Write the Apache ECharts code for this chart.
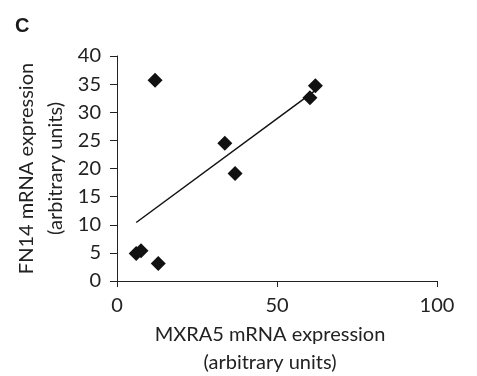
<!DOCTYPE html>
<html><head><meta charset="utf-8">
<script src="https://cdn.jsdelivr.net/npm/echarts@6/dist/echarts.min.js"></script>
<style>html,body{margin:0;padding:0;background:#fff}#c{width:477px;height:376px}</style>
</head><body><div id="c"></div>
<script>
var mxra5 = [6.0, 7.5, 12.9, 11.9, 33.7, 36.9, 60.3, 62.0];
var fn14  = [4.9, 5.4, 3.1, 35.7, 24.5, 19.1, 32.6, 34.7];
var trendX = [6.0, 62.0];
var trendY = [10.4, 33.9];
var xTicks = [0, 50, 100];
var yTicks = [0, 5, 10, 15, 20, 25, 30, 35, 40];

var pts = mxra5.map(function(x, i){ return [x, fn14[i]]; });
var trend = trendX.map(function(x, i){ return [x, trendY[i]]; });
var font = 'Lato, "Open Sans", sans-serif';
var chart = echarts.init(document.getElementById('c'));
chart.setOption({
  animation: false,
  title: {text: 'C', left: 15, top: 16, padding: 0, textStyle: {fontFamily: 'Arial, "Liberation Sans", sans-serif', fontWeight: 'bold', fontSize: 20, color: '#1a1a1a'}},
  grid: {left: 117, top: 56, width: 320, height: 225, containLabel: false, outerBoundsMode: 'none'},
  xAxis: {
    type: 'value', min: xTicks[0], max: xTicks[xTicks.length-1], interval: 50,
    name: 'MXRA5 mRNA expression\n(arbitrary units)', nameLocation: 'middle', nameGap: 38,
    nameTextStyle: {fontFamily: font, fontSize: 20, lineHeight: 28, color: '#222', padding: [0, 14, 0, 0]},
    axisLine: {show: true, onZero: false, lineStyle: {color: '#222', width: 1}},
    axisTick: {show: true, length: 6, lineStyle: {color: '#222'}},
    axisLabel: {fontFamily: font, fontSize: 20, color: '#222', margin: 15},
    splitLine: {show: false}
  },
  yAxis: {
    type: 'value', min: yTicks[0], max: yTicks[yTicks.length-1], interval: 5,
    name: 'FN14 mRNA expression\n(arbitrary units)', nameLocation: 'middle', nameGap: 47, nameRotate: 90,
    nameMoveOverlap: false,
    nameTextStyle: {fontFamily: font, fontSize: 20, lineHeight: 29, color: '#222'},
    axisLine: {show: true, onZero: false, lineStyle: {color: '#222', width: 1}},
    axisTick: {show: true, length: 7, lineStyle: {color: '#222'}},
    axisLabel: {fontFamily: font, fontSize: 20, color: '#222', margin: 16},
    splitLine: {show: false}
  },
  series: [
    {type: 'line', data: trend, symbol: 'none', lineStyle: {color: '#111', width: 1.5}, silent: true, z: 1},
    {type: 'scatter', data: pts, symbol: 'diamond', symbolSize: 15, itemStyle: {color: '#111', opacity: 1}, z: 2}
  ]
});
</script></body></html>
